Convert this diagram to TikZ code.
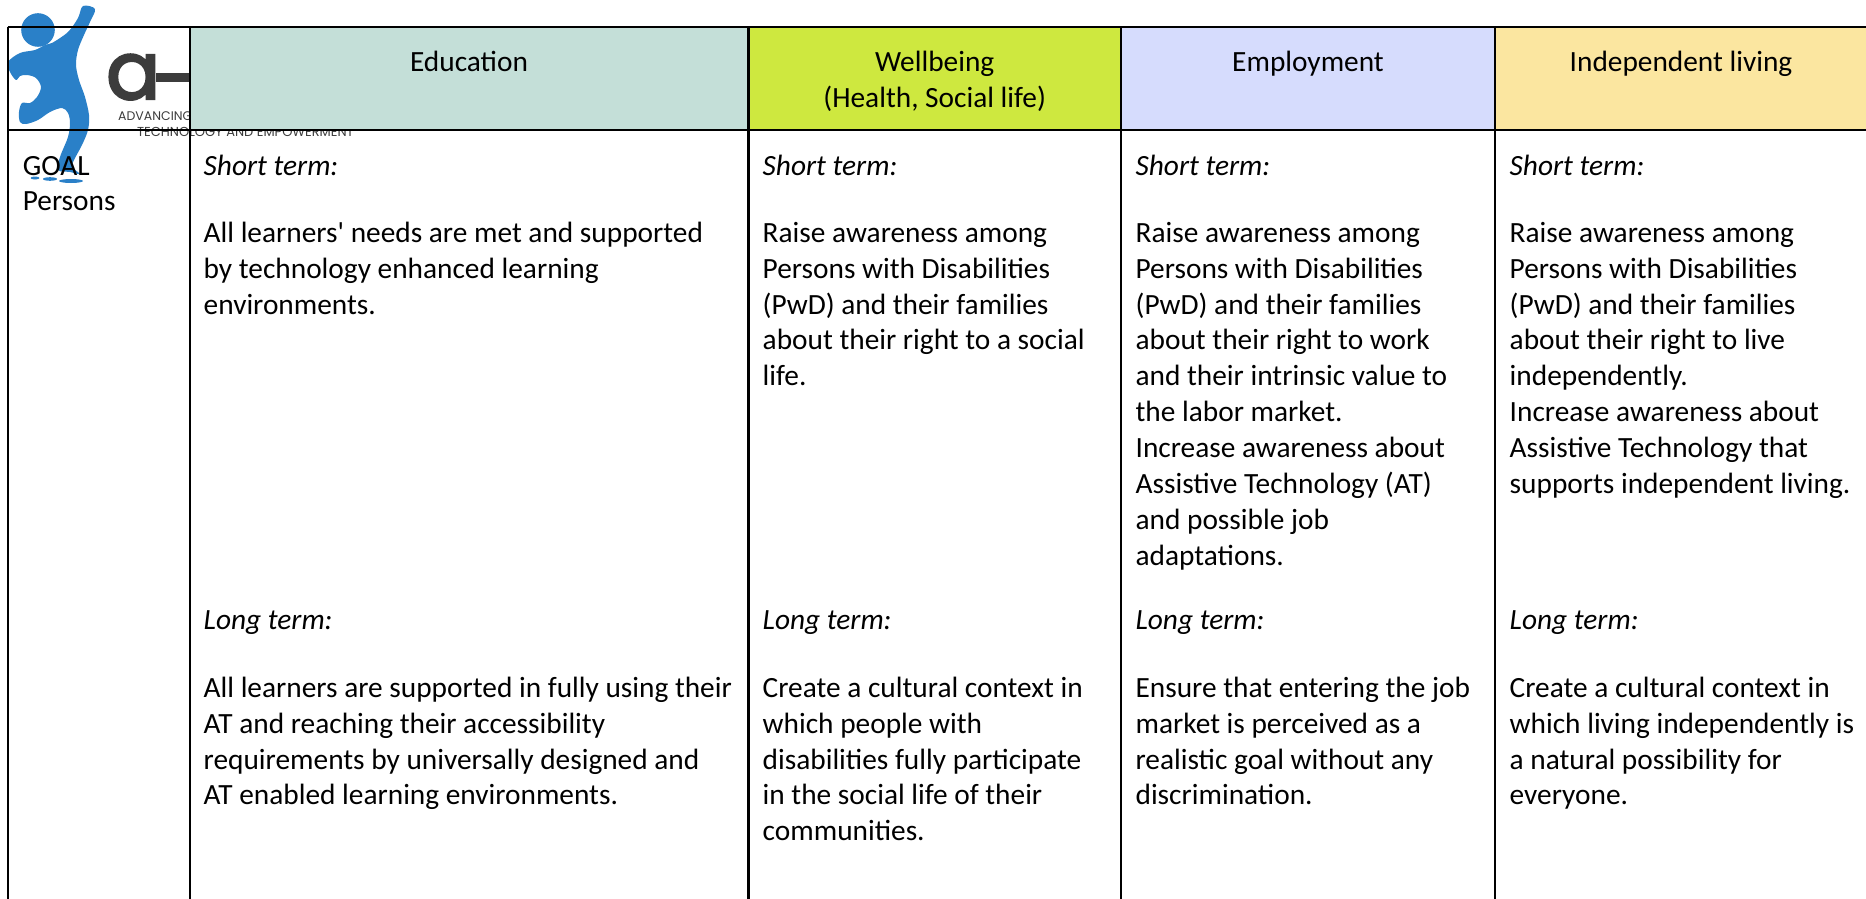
\documentclass[tikz,border=0pt]{standalone}
\usepackage{fontspec}
\setmainfont{Carlito}[Ligatures=TeXOff]
\newfontfamily\logofont{Poppins}
\definecolor{teal}{HTML}{C4DFD8}
\definecolor{lime}{HTML}{CEE83F}
\definecolor{peri}{HTML}{D6DCFD}
\definecolor{sand}{HTML}{FBE6A0}
\definecolor{logoblue}{HTML}{2A80C8}
\definecolor{logodark}{HTML}{3C3C3C}
\newcommand\fl{\rule{0pt}{24pt}}
\tikzset{
  bodytext/.style={anchor=north west,inner sep=0pt,align=left,font=\fontsize{29.35}{35.9}\selectfont},
  termlabel/.style={anchor=base west,inner sep=0pt,font=\fontsize{29.35}{35.9}\selectfont\itshape},
  headtext/.style={anchor=north,inner sep=0pt,align=center,font=\fontsize{29.35}{35.9}\selectfont},
  rule/.style={draw=black,line width=2.1pt},
  logosmall/.style={anchor=base west,inner sep=0pt,text=logodark,font=\logofont\fontsize{12.5}{14}\selectfont}
}
\begin{document}
\begin{tikzpicture}[x=1pt,y=-1pt]
\useasboundingbox (0,0) rectangle (1866,899);
% logo
\fill[logoblue] (38,30) circle (16.8);
\fill[logoblue] plot[smooth cycle,tension=0.55] coordinates {(83,6)(95,9)(90,22)(84,35)(78,50)(76,65)(79,80)(85,97)(89,115)(88,130)(82,145)(74,160)(72,167)(80,174)(70,172)(58,170)(60,157)(68,137)(70,123)(68,113)(62,108)(50,112)(38,120)(26,124)(20,122)(19,112)(22,103)(30,103)(37,97)(41,87)(36,78)(27,75)(20,76)(16,80)(10,72)(8,62)(20,53)(35,50)(45,45)(52,43)(68,32)(78,18)};
\fill[logoblue] (35,178) ellipse (4.5 and 1.5);
\fill[logoblue] (50,179) ellipse (7 and 1.8);
\fill[logoblue] (71,181) ellipse (12 and 2);
\node[anchor=base west,inner sep=0pt,text=logodark,font=\logofont\fontsize{80}{80}\selectfont\addfontfeatures{FakeBold=3}] (logoa) at (106,99) {a};
\fill[logodark] (156,73) rectangle (190,82);
\node[logosmall] (logoadv) at (118,120) {ADVANCING};
\node[logosmall,font=\logofont\fontsize{13}{14}\selectfont] (logotech) at (137,136.5) {TECHNOLOGY AND EMPOWERMENT};
% header fills
\fill[teal] (190,27) rectangle (748.5,130);
\fill[lime] (748.5,27) rectangle (1121,130);
\fill[peri] (1121,27) rectangle (1494.7,130);
\fill[sand] (1494.7,27) rectangle (1866,130);
% rules
\draw[rule] (7.7,27) -- (1866,27);
\draw[rule] (7.7,130) -- (1866,130);
\draw[rule] (7.7,27) -- (7.7,899);
\draw[rule] (190,27) -- (190,899);
\draw[rule] (748.5,27) -- (748.5,899);
\draw[rule] (1121,27) -- (1121,899);
\draw[rule] (1494.7,27) -- (1494.7,899);
% header text
\node[headtext] (hedu) at (469,47) {\fl Education};
\node[headtext] (hwell) at (934.7,47) {\fl Wellbeing\\(Health, Social life)};
\node[headtext] (hemp) at (1308,47) {\fl Employment};
\node[headtext] (hind) at (1681,47) {\fl Independent living};
% first column
\node[bodytext,font=\fontsize{29.35}{35.4}\selectfont] (goal) at (22.6,151) {\fl GOAL\\Persons};
% education
\node[termlabel] (s1) at (203.5,175) {Short term:};
\node[bodytext] (st1) at (203.5,218) {\fl All learners' needs are met and supported\\by technology enhanced learning\\environments.};
\node[termlabel] (l1) at (203.5,629) {Long term:};
\node[bodytext] (lt1) at (203.5,673) {\fl All learners are supported in fully using their\\AT and reaching their accessibility\\requirements by universally designed and\\AT enabled learning environments.};
% wellbeing
\node[termlabel] (s2) at (762.5,175) {Short term:};
\node[bodytext] (st2) at (762.5,218) {\fl Raise awareness among\\Persons with Disabilities\\(PwD) and their families\\about their right to a social\\life.};
\node[termlabel] (l2) at (762.5,629) {Long term:};
\node[bodytext] (lt2) at (762.5,673) {\fl Create a cultural context in\\which people with\\disabilities fully participate\\in the social life of their\\communities.};
% employment
\node[termlabel] (s3) at (1135.4,175) {Short term:};
\node[bodytext] (st3) at (1135.4,218) {\fl Raise awareness among\\Persons with Disabilities\\(PwD) and their families\\about their right to work\\and their intrinsic value to\\the labor market.\\Increase awareness about\\Assistive Technology (AT)\\and possible job\\adaptations.};
\node[termlabel] (l3) at (1135.4,629) {Long term:};
\node[bodytext] (lt3) at (1135.4,673) {\fl Ensure that entering the job\\market is perceived as a\\realistic goal without any\\discrimination.};
% independent living
\node[termlabel] (s4) at (1509.5,175) {Short term:};
\node[bodytext] (st4) at (1509.5,218) {\fl Raise awareness among\\Persons with Disabilities\\(PwD) and their families\\about their right to live\\independently.\\Increase awareness about\\Assistive Technology that\\supports independent living.};
\node[termlabel] (l4) at (1509.5,629) {Long term:};
\node[bodytext] (lt4) at (1509.5,673) {\fl Create a cultural context in\\which living independently is\\a natural possibility for\\everyone.};
\end{tikzpicture}
\end{document}
